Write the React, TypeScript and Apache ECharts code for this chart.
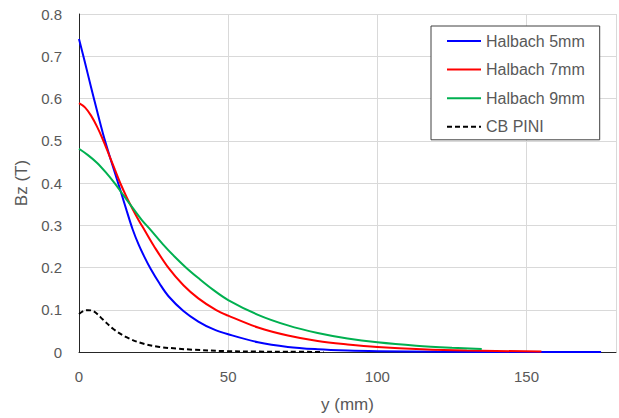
import React, { useEffect, useRef } from "react";
import * as echarts from "echarts";

const seriesNames = ["Halbach 5mm", "Halbach 7mm", "Halbach 9mm", "CB PINI"];

const h5X = [0, 2, 4, 6, 8, 10, 12, 14, 16, 18, 20, 22, 24, 27, 30, 35, 40, 45, 50, 60, 70, 80, 90, 100, 120, 150, 175];
const h5Y = [0.741, 0.685, 0.628, 0.572, 0.518, 0.47, 0.425, 0.38, 0.334, 0.29, 0.254, 0.224, 0.197, 0.162, 0.132, 0.097, 0.072, 0.054, 0.042, 0.023, 0.012, 0.0065, 0.0035, 0.002, 0.0006, 0.0002, 0.0001];

const h7X = [0, 2, 4, 6, 8, 10, 12, 14, 16, 18, 20, 22, 25, 30, 35, 40, 46, 50, 60, 70, 80, 90, 100, 115, 130, 155];
const h7Y = [0.589, 0.579, 0.56, 0.534, 0.503, 0.468, 0.432, 0.397, 0.366, 0.338, 0.312, 0.288, 0.252, 0.199, 0.158, 0.127, 0.099, 0.086, 0.058, 0.039, 0.026, 0.018, 0.012, 0.0065, 0.0035, 0.0012];

const h9X = [0, 3, 6, 9, 12, 15, 18, 21, 24, 28, 32, 36, 40, 45, 50, 60, 70, 80, 90, 100, 113, 125, 135];
const h9Y = [0.481, 0.466, 0.448, 0.425, 0.399, 0.37, 0.341, 0.313, 0.289, 0.256, 0.226, 0.199, 0.175, 0.147, 0.123, 0.088, 0.063, 0.045, 0.032, 0.023, 0.015, 0.01, 0.007];

const cbX = [0, 1.5, 3, 5, 8, 11.4, 15.9, 21.4, 27, 33, 38, 49, 60, 70, 82];
const cbY = [0.09, 0.097, 0.099, 0.096, 0.077, 0.055, 0.035, 0.02, 0.012, 0.008, 0.0055, 0.002, 0.001, 0.0005, 0.0002];

const xTicks = [0, 50, 100, 150];
const yTicks = [0, 0.1, 0.2, 0.3, 0.4, 0.5, 0.6, 0.7, 0.8];

const colors = ["#0000FF", "#FF0000", "#00B050", "#000000"];

const pairs = (xs: number[], ys: number[]) => xs.map((x, i) => [x, ys[i]]);

export default function App() {
  const ref = useRef<HTMLDivElement>(null);
  useEffect(() => {
    if (!ref.current) return;
    const chart = echarts.init(ref.current, undefined, { renderer: "svg" });
    const font = "'Liberation Sans', Arial, sans-serif";
    const datasets = [pairs(h5X, h5Y), pairs(h7X, h7Y), pairs(h9X, h9Y), pairs(cbX, cbY)];
    chart.setOption({
      animation: false,
      backgroundColor: "#ffffff",
      textStyle: { fontFamily: font },
      grid: { left: 79, right: 0, top: 14, bottom: 63, containLabel: false },
      legend: {
        orient: "vertical",
        left: 431,
        top: 26,
        padding: [7, 15, 5, 15],
        itemGap: 12.6,
        itemWidth: 34,
        itemHeight: 14,
        borderColor: "#404040",
        borderWidth: 1,
        backgroundColor: "#ffffff",
        itemStyle: { opacity: 0 },
        textStyle: { fontFamily: font, fontSize: 16, color: "#595959", lineHeight: 16 },
        data: seriesNames,
      },
      xAxis: {
        type: "value",
        min: 0,
        max: 180,
        interval: 50,
        name: "y (mm)",
        nameLocation: "middle",
        nameGap: 44,
        nameTextStyle: { fontFamily: font, fontSize: 17, color: "#595959" },
        axisLine: { show: true, lineStyle: { color: "#262626", width: 1 } },
        axisTick: { show: false },
        axisLabel: {
          fontFamily: font,
          fontSize: 15,
          color: "#595959",
          margin: 17,
          formatter: (v: number) => (xTicks.includes(v) ? String(v) : ""),
        },
        splitLine: { show: true, lineStyle: { color: "#d9d9d9", width: 1 } },
      },
      yAxis: {
        type: "value",
        min: 0,
        max: 0.8,
        interval: 0.1,
        name: "Bz (T)",
        nameLocation: "middle",
        nameGap: 49,
        nameTextStyle: { fontFamily: font, fontSize: 17, color: "#595959" },
        axisLine: { show: true, lineStyle: { color: "#262626", width: 1 } },
        axisTick: { show: false },
        axisLabel: {
          fontFamily: font,
          fontSize: 15,
          color: "#595959",
          margin: 17,
          formatter: (v: number) => {
            const t = yTicks.find((y) => Math.abs(y - v) < 1e-6);
            return t === undefined ? "" : t === 0 ? "0" : t.toFixed(1);
          },
        },
        splitLine: { show: true, lineStyle: { color: "#d9d9d9", width: 1 } },
      },
      series: seriesNames.map((name, i) => ({
        name,
        type: "line",
        data: datasets[i],
        smooth: 0.35,
        symbol: "none",
        showSymbol: false,
        color: colors[i],
        lineStyle: {
          color: colors[i],
          width: 2,
          type: i === 3 ? [5, 3] : "solid",
        },
        z: 2 + i,
      })),
    });
    return () => chart.dispose();
  }, []);
  return (
    <div
      ref={ref}
      style={{ position: "fixed", left: 0, top: 0, width: 619, height: 418, background: "#fff" }}
    />
  );
}
